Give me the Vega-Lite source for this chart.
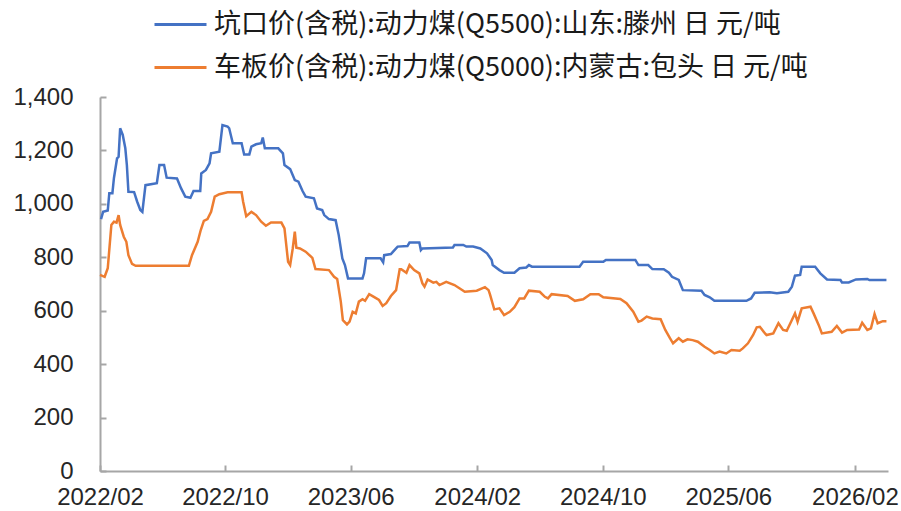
{
  "$schema": "https://vega.github.io/schema/vega-lite/v6.json",
  "width": 788,
  "height": 374,
  "autosize": "none",
  "padding": {"left": 100, "top": 97, "right": 13, "bottom": 40},
  "background": "white",
  "datasets": {
    "kou": [
      {"date":"2022-02-03","price":943},{"date":"2022-02-07","price":970},{"date":"2022-02-16","price":975},{"date":"2022-02-19","price":1040},{"date":"2022-02-25","price":1040},{"date":"2022-02-28","price":1097},{"date":"2022-03-06","price":1170},{"date":"2022-03-09","price":1176},{"date":"2022-03-12","price":1283},{"date":"2022-03-17","price":1258},{"date":"2022-03-22","price":1208},{"date":"2022-03-25","price":1145},{"date":"2022-03-28","price":1045},{"date":"2022-04-08","price":1044},{"date":"2022-04-14","price":1008},{"date":"2022-04-20","price":977},{"date":"2022-04-24","price":970},{"date":"2022-04-30","price":1070},{"date":"2022-05-22","price":1077},{"date":"2022-05-27","price":1145},{"date":"2022-06-05","price":1145},{"date":"2022-06-10","price":1098},{"date":"2022-06-30","price":1095},{"date":"2022-07-08","price":1058},{"date":"2022-07-16","price":1027},{"date":"2022-07-26","price":1023},{"date":"2022-08-01","price":1048},{"date":"2022-08-14","price":1048},{"date":"2022-08-16","price":1114},{"date":"2022-08-25","price":1127},{"date":"2022-09-01","price":1152},{"date":"2022-09-04","price":1189},{"date":"2022-09-20","price":1195},{"date":"2022-09-26","price":1295},{"date":"2022-10-06","price":1289},{"date":"2022-10-09","price":1283},{"date":"2022-10-16","price":1227},{"date":"2022-11-02","price":1227},{"date":"2022-11-07","price":1185},{"date":"2022-11-17","price":1185},{"date":"2022-11-21","price":1214},{"date":"2022-11-30","price":1223},{"date":"2022-12-10","price":1227},{"date":"2022-12-13","price":1248},{"date":"2022-12-17","price":1208},{"date":"2023-01-12","price":1208},{"date":"2023-01-21","price":1189},{"date":"2023-01-24","price":1145},{"date":"2023-02-04","price":1130},{"date":"2023-02-13","price":1089},{"date":"2023-02-20","price":1083},{"date":"2023-02-28","price":1048},{"date":"2023-03-06","price":1027},{"date":"2023-03-22","price":1021},{"date":"2023-03-28","price":983},{"date":"2023-04-07","price":977},{"date":"2023-04-11","price":958},{"date":"2023-04-20","price":943},{"date":"2023-05-03","price":939},{"date":"2023-05-09","price":883},{"date":"2023-05-16","price":796},{"date":"2023-05-21","price":771},{"date":"2023-05-27","price":721},{"date":"2023-06-24","price":721},{"date":"2023-06-27","price":740},{"date":"2023-07-01","price":796},{"date":"2023-07-29","price":796},{"date":"2023-08-03","price":781},{"date":"2023-08-05","price":808},{"date":"2023-08-18","price":812},{"date":"2023-08-24","price":825},{"date":"2023-08-31","price":840},{"date":"2023-09-19","price":842},{"date":"2023-09-23","price":855},{"date":"2023-10-12","price":855},{"date":"2023-10-15","price":827},{"date":"2023-10-18","price":833},{"date":"2023-12-16","price":837},{"date":"2023-12-19","price":846},{"date":"2024-01-05","price":846},{"date":"2024-01-11","price":840},{"date":"2024-01-24","price":840},{"date":"2024-02-07","price":833},{"date":"2024-02-20","price":815},{"date":"2024-02-29","price":790},{"date":"2024-03-02","price":771},{"date":"2024-03-15","price":752},{"date":"2024-03-24","price":742},{"date":"2024-04-13","price":742},{"date":"2024-04-23","price":759},{"date":"2024-05-06","price":762},{"date":"2024-05-11","price":771},{"date":"2024-05-17","price":765},{"date":"2024-08-17","price":765},{"date":"2024-08-24","price":783},{"date":"2024-10-02","price":783},{"date":"2024-10-07","price":790},{"date":"2024-12-03","price":790},{"date":"2024-12-09","price":771},{"date":"2024-12-28","price":771},{"date":"2025-01-05","price":756},{"date":"2025-01-27","price":755},{"date":"2025-02-06","price":742},{"date":"2025-02-12","price":727},{"date":"2025-02-25","price":715},{"date":"2025-03-05","price":677},{"date":"2025-04-10","price":675},{"date":"2025-04-16","price":659},{"date":"2025-04-26","price":650},{"date":"2025-05-05","price":637},{"date":"2025-07-06","price":637},{"date":"2025-07-15","price":646},{"date":"2025-07-22","price":667},{"date":"2025-08-20","price":669},{"date":"2025-09-03","price":665},{"date":"2025-09-25","price":671},{"date":"2025-10-02","price":690},{"date":"2025-10-08","price":731},{"date":"2025-10-18","price":734},{"date":"2025-10-21","price":765},{"date":"2025-11-16","price":765},{"date":"2025-11-26","price":740},{"date":"2025-12-09","price":717},{"date":"2026-01-04","price":715},{"date":"2026-01-07","price":706},{"date":"2026-01-20","price":706},{"date":"2026-02-03","price":717},{"date":"2026-02-25","price":719},{"date":"2026-03-01","price":715},{"date":"2026-04-03","price":715}
    ],
    "che": [
      {"date":"2022-02-01","price":734},{"date":"2022-02-10","price":727},{"date":"2022-02-16","price":759},{"date":"2022-02-23","price":921},{"date":"2022-02-28","price":933},{"date":"2022-03-05","price":930},{"date":"2022-03-09","price":958},{"date":"2022-03-12","price":921},{"date":"2022-03-19","price":877},{"date":"2022-03-24","price":858},{"date":"2022-03-28","price":808},{"date":"2022-04-04","price":775},{"date":"2022-04-11","price":768},{"date":"2022-07-23","price":768},{"date":"2022-07-29","price":808},{"date":"2022-08-09","price":858},{"date":"2022-08-15","price":902},{"date":"2022-08-21","price":936},{"date":"2022-08-28","price":943},{"date":"2022-09-04","price":970},{"date":"2022-09-11","price":1027},{"date":"2022-09-20","price":1036},{"date":"2022-10-06","price":1043},{"date":"2022-11-02","price":1043},{"date":"2022-11-05","price":1008},{"date":"2022-11-11","price":954},{"date":"2022-11-21","price":970},{"date":"2022-11-30","price":958},{"date":"2022-12-10","price":933},{"date":"2022-12-19","price":918},{"date":"2022-12-29","price":930},{"date":"2023-01-18","price":930},{"date":"2023-01-24","price":908},{"date":"2023-01-31","price":783},{"date":"2023-02-04","price":771},{"date":"2023-02-09","price":833},{"date":"2023-02-13","price":896},{"date":"2023-02-16","price":836},{"date":"2023-02-23","price":833},{"date":"2023-03-06","price":821},{"date":"2023-03-19","price":798},{"date":"2023-03-25","price":756},{"date":"2023-04-20","price":752},{"date":"2023-04-30","price":727},{"date":"2023-05-06","price":719},{"date":"2023-05-13","price":634},{"date":"2023-05-17","price":565},{"date":"2023-05-25","price":549},{"date":"2023-05-30","price":559},{"date":"2023-06-05","price":596},{"date":"2023-06-11","price":590},{"date":"2023-06-17","price":634},{"date":"2023-06-24","price":643},{"date":"2023-06-29","price":637},{"date":"2023-07-07","price":662},{"date":"2023-07-16","price":652},{"date":"2023-07-26","price":640},{"date":"2023-08-02","price":618},{"date":"2023-08-09","price":628},{"date":"2023-08-18","price":655},{"date":"2023-08-28","price":677},{"date":"2023-09-04","price":755},{"date":"2023-09-07","price":755},{"date":"2023-09-17","price":742},{"date":"2023-09-23","price":771},{"date":"2023-10-02","price":752},{"date":"2023-10-12","price":740},{"date":"2023-10-18","price":702},{"date":"2023-10-22","price":690},{"date":"2023-10-28","price":717},{"date":"2023-11-08","price":705},{"date":"2023-11-14","price":708},{"date":"2023-11-20","price":696},{"date":"2023-12-03","price":708},{"date":"2023-12-19","price":696},{"date":"2024-01-08","price":671},{"date":"2024-01-31","price":675},{"date":"2024-02-16","price":688},{"date":"2024-02-23","price":677},{"date":"2024-02-26","price":659},{"date":"2024-03-05","price":605},{"date":"2024-03-15","price":609},{"date":"2024-03-24","price":584},{"date":"2024-04-04","price":596},{"date":"2024-04-13","price":613},{"date":"2024-04-23","price":646},{"date":"2024-05-02","price":646},{"date":"2024-05-11","price":675},{"date":"2024-06-01","price":671},{"date":"2024-06-11","price":652},{"date":"2024-06-17","price":646},{"date":"2024-06-24","price":662},{"date":"2024-07-25","price":655},{"date":"2024-08-08","price":637},{"date":"2024-08-24","price":643},{"date":"2024-09-07","price":662},{"date":"2024-09-23","price":662},{"date":"2024-10-02","price":650},{"date":"2024-11-04","price":644},{"date":"2024-11-16","price":628},{"date":"2024-11-29","price":596},{"date":"2024-12-09","price":559},{"date":"2024-12-15","price":563},{"date":"2024-12-25","price":578},{"date":"2025-01-05","price":571},{"date":"2025-01-21","price":568},{"date":"2025-01-30","price":528},{"date":"2025-02-08","price":497},{"date":"2025-02-14","price":478},{"date":"2025-02-25","price":497},{"date":"2025-03-05","price":484},{"date":"2025-03-14","price":493},{"date":"2025-03-24","price":490},{"date":"2025-04-03","price":484},{"date":"2025-04-16","price":465},{"date":"2025-04-26","price":453},{"date":"2025-05-05","price":440},{"date":"2025-05-15","price":447},{"date":"2025-05-28","price":440},{"date":"2025-06-07","price":453},{"date":"2025-06-23","price":450},{"date":"2025-06-29","price":459},{"date":"2025-07-09","price":478},{"date":"2025-07-19","price":509},{"date":"2025-07-26","price":538},{"date":"2025-08-01","price":540},{"date":"2025-08-11","price":515},{"date":"2025-08-14","price":509},{"date":"2025-08-27","price":515},{"date":"2025-09-06","price":553},{"date":"2025-09-15","price":528},{"date":"2025-09-22","price":525},{"date":"2025-10-02","price":565},{"date":"2025-10-08","price":590},{"date":"2025-10-13","price":559},{"date":"2025-10-21","price":609},{"date":"2025-11-07","price":615},{"date":"2025-11-13","price":590},{"date":"2025-11-23","price":546},{"date":"2025-11-29","price":515},{"date":"2025-12-18","price":521},{"date":"2025-12-28","price":543},{"date":"2026-01-07","price":518},{"date":"2026-01-17","price":528},{"date":"2026-02-09","price":530},{"date":"2026-02-15","price":555},{"date":"2026-02-25","price":528},{"date":"2026-03-04","price":534},{"date":"2026-03-11","price":588},{"date":"2026-03-17","price":553},{"date":"2026-03-27","price":561},{"date":"2026-04-03","price":561}
    ]
  },
  "encoding": {
    "x": {
      "field": "date", "type": "temporal", "title": null,
      "scale": {"domain": [{"year": 2022, "month": 2, "date": 1}, {"year": 2026, "month": 4, "date": 6}], "nice": false},
      "axis": {
        "values": [{"year": 2022, "month": 2, "date": 1}, {"year": 2022, "month": 10, "date": 1}, {"year": 2023, "month": 6, "date": 1}, {"year": 2024, "month": 2, "date": 1}, {"year": 2024, "month": 10, "date": 1}, {"year": 2025, "month": 6, "date": 1}, {"year": 2026, "month": 2, "date": 1}],
        "format": "%Y/%m", "grid": false, "labelAngle": 0, "labelFlush": false, "labelOverlap": false,
        "tickSize": -6, "labelPadding": 20
      }
    },
    "y": {
      "field": "price", "type": "quantitative", "title": null,
      "scale": {"domain": [0, 1400], "nice": false, "zero": true},
      "axis": {"values": [0, 200, 400, 600, 800, 1000, 1200, 1400], "format": ",.0f", "grid": false, "tickSize": -6, "labelPadding": 33}
    }
  },
  "layer": [
    {
      "data": {"name": "kou"},
      "mark": {"type": "line", "strokeWidth": 2.5, "interpolate": "linear"},
      "encoding": {"color": {"datum": "坑口价(含税):动力煤(Q5500):山东:滕州 日 元/吨"}}
    },
    {
      "data": {"name": "che"},
      "mark": {"type": "line", "strokeWidth": 2.5, "interpolate": "linear"},
      "encoding": {"color": {"datum": "车板价(含税):动力煤(Q5000):内蒙古:包头 日 元/吨"}}
    }
  ],
  "resolve": {"scale": {"color": "shared"}},
  "config": {
    "view": {"stroke": null},
    "axis": {
      "domainColor": "#A6A6A6", "domainWidth": 2, "tickColor": "#A6A6A6", "tickWidth": 2,
      "labelFont": "Liberation Sans", "labelFontSize": 24, "labelColor": "#262626"
    },
    "range": {"category": ["#4472C4", "#ED7D31"]},
    "legend": {
      "orient": "none", "legendX": 53, "legendY": -100, "direction": "vertical",
      "symbolType": "stroke", "symbolSize": 2704, "symbolStrokeWidth": 3,
      "labelFont": "Noto Sans CJK SC", "labelFontSize": 27, "labelColor": "#1a1a1a",
      "labelOffset": 6, "labelLimit": 0, "rowPadding": 2, "padding": 0, "title": null
    }
  }
}
